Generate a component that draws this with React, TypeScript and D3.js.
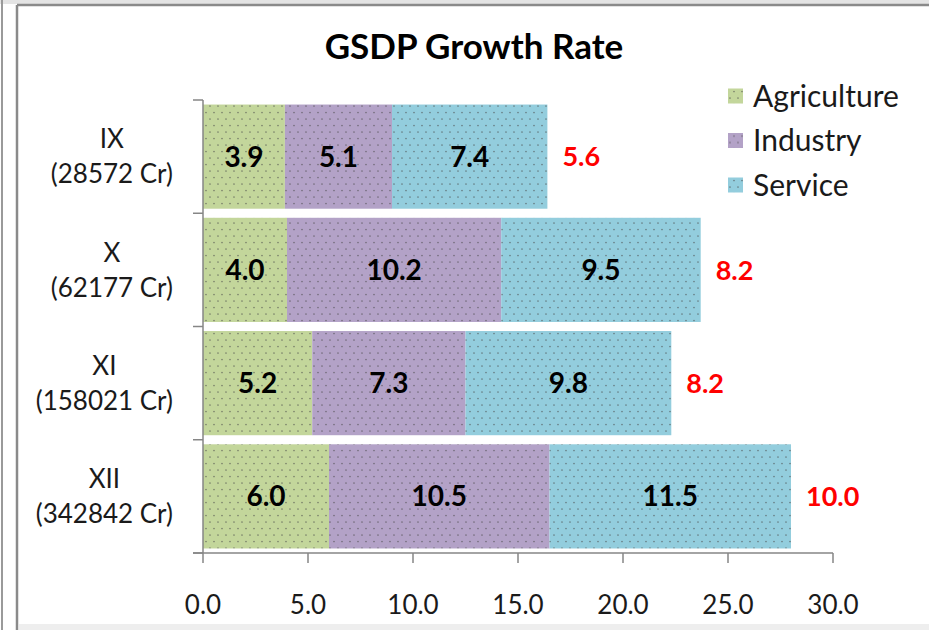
import React from "react";
import * as d3 from "d3";

const categories = ["IX", "X", "XI", "XII"];
const outlays = ["(28572 Cr)", "(62177 Cr)", "(158021 Cr)", "(342842 Cr)"];
const seriesNames = ["Agriculture", "Industry", "Service"];
const agriculture = [3.9, 4.0, 5.2, 6.0];
const industry = [5.1, 10.2, 7.3, 10.5];
const service = [7.4, 9.5, 9.8, 11.5];
const overall = [5.6, 8.2, 8.2, 10.0];
const xTicks = [0, 5, 10, 15, 20, 25, 30];
const colors = ["#c3d69b", "#b3a2c7", "#93cddd"];

const W = 929;
const H = 630;
const FONT = "Lato, 'Open Sans', sans-serif";

function measure(text: string, font: string): number {
  const c = document.createElement("canvas");
  const ctx = c.getContext("2d");
  if (!ctx) return text.length * 12;
  ctx.font = font;
  return ctx.measureText(text).width;
}

export default function App() {
  const x = d3.scaleLinear().domain([0, 30]).range([203, 833]);
  const y = d3.scaleBand<string>().domain(categories).range([100, 553]).paddingInner(0.08).paddingOuter(0.04);
  const step = y.step();
  const rows = categories.map((c, i) => ({ c, i, vals: [agriculture[i], industry[i], service[i]] }));
  const stackData = categories.map((c, i) => ({ c, Agriculture: agriculture[i], Industry: industry[i], Service: service[i] }));
  const stack = d3.stack<any>().keys(seriesNames)(stackData);
  const catSize = 26;
  const labelFont = `${catSize}px Lato`;
  const bandEdges = categories.map((_, i) => 100 + i * step).concat([553]);

  return (
    <div style={{ position: "absolute", left: 0, top: 0 }}>
      <svg width={W} height={H} style={{ display: "block", background: "#fff" }}>
        <defs>
          {colors.map((col, i) => (
            <pattern key={i} id={`dots${i}`} width={8} height={13} patternUnits="userSpaceOnUse">
              <rect width={8} height={13} fill={col} />
              <circle cx={2} cy={2} r={0.85} fill="#4a4a4a" opacity={0.6} />
              <circle cx={6} cy={8.5} r={0.85} fill="#4a4a4a" opacity={0.6} />
            </pattern>
          ))}
        </defs>
        {/* frame */}
        <rect x={0} y={0} width={W} height={4} fill="#e4e4e4" />
        <line x1={2} y1={0} x2={2} y2={H} stroke="#9a9a9a" strokeWidth={2} />
        <line x1={17} y1={5} x2={W} y2={5} stroke="#8a8a8a" strokeWidth={2.5} />
        <line x1={17} y1={5} x2={17} y2={H} stroke="#8a8a8a" strokeWidth={2.5} />
        <rect x={19} y={624} width={W - 19} height={6} fill="#eeeeee" />

        {/* title */}
        <text x={474} y={59} textAnchor="middle" fontFamily={FONT} fontWeight={700} fontSize={35} fill="#000">
          GSDP Growth Rate
        </text>

        {/* bars */}
        {stack.map((s, si) =>
          s.map((d, di) => (
            <rect
              key={`${si}-${di}`}
              x={x(d[0])}
              y={y(categories[di])!}
              width={x(d[1]) - x(d[0])}
              height={y.bandwidth()}
              fill={`url(#dots${si})`}
            />
          ))
        )}
        {stack.map((s, si) =>
          s.map((d, di) => (
            <text
              key={`t${si}-${di}`}
              x={(x(d[0]) + x(d[1])) / 2}
              y={y(categories[di])! + y.bandwidth() / 2}
              dy="0.36em"
              textAnchor="middle"
              fontFamily={FONT}
              fontWeight={700}
              fontSize={28}
              fill="#000"
            >
              {(d[1] - d[0]).toFixed(1)}
            </text>
          ))
        )}
        {rows.map((r) => {
          const total = d3.sum(r.vals);
          return (
            <text
              key={`o${r.i}`}
              x={x(total) + 15}
              y={y(r.c)! + y.bandwidth() / 2}
              dy="0.36em"
              fontFamily={FONT}
              fontWeight={700}
              fontSize={27}
              fill="#ff0000"
            >
              {overall[r.i].toFixed(1)}
            </text>
          );
        })}

        {/* axes */}
        <line x1={203} y1={100} x2={203} y2={553} stroke="#868686" strokeWidth={1.5} />
        {bandEdges.map((e, i) => (
          <line key={`be${i}`} x1={193} y1={e} x2={203} y2={e} stroke="#868686" strokeWidth={1.5} />
        ))}
        <line x1={193} y1={553} x2={x(30)} y2={553} stroke="#868686" strokeWidth={1.5} />
        {xTicks.map((t) => (
          <g key={`xt${t}`}>
            <line x1={x(t)} y1={553} x2={x(t)} y2={563} stroke="#868686" strokeWidth={1.5} />
            <text x={x(t)} y={605} dy="0.36em" textAnchor="middle" fontFamily={FONT} fontSize={26} fill="#1a1a1a">
              {t.toFixed(1)}
            </text>
          </g>
        ))}

        {/* category labels */}
        {categories.map((c, i) => {
          const wMax = Math.max(measure(c, labelFont), measure(outlays[i], labelFont));
          const cx = 173 - wMax / 2;
          const mid = y(c)! + y.bandwidth() / 2;
          return (
            <g key={`cl${i}`}>
              <text x={cx} y={mid - 17.5} dy="0.36em" textAnchor="middle" fontFamily={FONT} fontSize={catSize} fill="#1a1a1a">
                {c}
              </text>
              <text x={cx} y={mid + 17.5} dy="0.36em" textAnchor="middle" fontFamily={FONT} fontSize={catSize} fill="#1a1a1a">
                {outlays[i]}
              </text>
            </g>
          );
        })}

        {/* legend */}
        {seriesNames.map((n, i) => (
          <g key={`lg${i}`} transform={`translate(728, ${96 + i * 44.5})`}>
            <rect x={0} y={-7.5} width={15} height={15} fill={`url(#dots${i})`} />
            <text x={25} y={0} dy="0.36em" fontFamily={FONT} fontSize={30} fill="#1a1a1a">
              {n}
            </text>
          </g>
        ))}
      </svg>
    </div>
  );
}
